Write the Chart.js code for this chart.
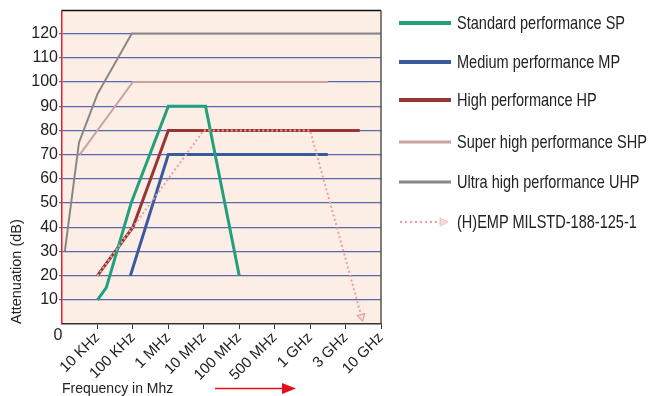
<!DOCTYPE html>
<html>
<head>
<meta charset="utf-8">
<script src="https://cdn.jsdelivr.net/npm/chart.js@4"></script>
<style>
  html, body { margin: 0; padding: 0; background: #ffffff; }
  #wrap { position: relative; width: 664px; height: 396px; overflow: hidden; }
  canvas { position: absolute; left: 0; top: 0; }
  .lg { position: absolute; left: 399px; height: 24px; display: flex; align-items: center; white-space: nowrap; }
  .lg svg { flex: none; }
  .lg span { display: inline-block; margin-left: 6px; font-family: "Liberation Sans", Arial, sans-serif;
             font-size: 19px; color: #222; transform: scaleX(0.765); transform-origin: 0 50%; }
  #farrow { position: absolute; left: 212px; top: 380px; }
</style>
</head>
<body>
<div id="wrap">
  <canvas id="c" width="664" height="396"></canvas>
  <div id="legend"></div>
  <svg id="farrow" width="90" height="16" viewBox="0 0 90 16">
    <line x1="3" y1="8.5" x2="72" y2="8.5" stroke="#e3101e" stroke-width="1.5"/>
    <polygon points="70,3 84,8.5 70,14" fill="#e3101e"/>
  </svg>
</div>
<script>
// ---- data ----
const xLabels = ['10 KHz', '100 KHz', '1 MHz', '10 MHz', '100 MHz', '500 MHz', '1 GHz', '3 GHz', '10 GHz'];
const seriesNames = ['Standard performance SP', 'Medium performance MP', 'High performance HP',
                     'Super high performance SHP', 'Ultra high performance UHP', '(H)EMP MILSTD-188-125-1'];

const spX  = [1, 1.25, 1.95, 3, 4.05, 5];
const spY  = [10, 15, 50, 90, 90, 20];
const mpX  = [1.93, 3, 7.5];
const mpY  = [20, 70, 70];
const hpX  = [1, 2, 3, 8.4];
const hpY  = [20, 40, 80, 80];
const shpX = [0.5, 2, 7.5];
const shpY = [70, 100, 100];
const uhpX = [0.08, 0.48, 1, 1.97, 9];
const uhpY = [30, 75, 95, 120, 120];
const empX = [1, 2, 4, 7, 8.45];
const empY = [20, 40, 80, 80, 3];

const yTickValues = [10, 20, 30, 40, 50, 60, 70, 80, 90, 100, 110, 120];

// ---- styles ----
const colors = ['#22a07e', '#3a5a9e', '#993434', '#c8a4a0', '#878787', '#e3a3a3'];
const widths = [3, 3, 3, 2, 2, 2];
const REG = '"Liberation Sans", Arial, sans-serif';

function pts(xs, ys) { return xs.map((x, i) => ({ x: x, y: ys[i] })); }

const datasets = [
  { label: seriesNames[0], data: pts(spX, spY), borderColor: colors[0], borderWidth: widths[0], order: 1 },
  { label: seriesNames[1], data: pts(mpX, mpY), borderColor: colors[1], borderWidth: widths[1], order: 3 },
  { label: seriesNames[2], data: pts(hpX, hpY), borderColor: colors[2], borderWidth: widths[2], order: 2 },
  { label: seriesNames[3], data: pts(shpX, shpY), borderColor: colors[3], borderWidth: widths[3], order: 4 },
  { label: seriesNames[4], data: pts(uhpX, uhpY), borderColor: colors[4], borderWidth: widths[4], order: 5 },
  { label: seriesNames[5], data: pts(empX, empY), borderColor: colors[5], borderWidth: widths[5], order: 0,
    borderDash: [2, 2.5],
    pointStyle: 'triangle',
    pointRadius: empX.map((_, i) => i === empX.length - 1 ? 4.5 : 0),
    pointRotation: 165,
    pointBackgroundColor: '#f6dcdc',
    pointBorderColor: colors[5],
    pointBorderWidth: 1.2 }
];
datasets.forEach(d => {
  d.fill = false; d.tension = 0;
  if (d.pointRadius === undefined) d.pointRadius = 0;
  d.borderJoinStyle = 'miter';
});

const framePlugin = {
  id: 'frame',
  beforeDraw(chart) {
    const { ctx, chartArea: a } = chart;
    ctx.save();
    ctx.fillStyle = '#fdeee5';
    ctx.fillRect(a.left, a.top, a.right - a.left, a.bottom - a.top);
    ctx.restore();
  },
  afterDraw(chart) {
    const { ctx, chartArea: a } = chart;
    ctx.save();
    ctx.strokeStyle = '#111';
    ctx.lineWidth = 1.5;
    ctx.beginPath();
    ctx.moveTo(a.left, a.top);
    ctx.lineTo(a.right, a.top);
    ctx.stroke();
    ctx.strokeStyle = '#555';
    ctx.beginPath();
    ctx.moveTo(a.right, a.top);
    ctx.lineTo(a.right, a.bottom);
    ctx.stroke();
    // origin label
    ctx.fillStyle = '#222';
    ctx.font = '16px ' + REG;
    ctx.textAlign = 'center';
    ctx.textBaseline = 'middle';
    ctx.fillText('0', chart.scales.x.getPixelForValue(0) - 4, a.bottom + 12);
    ctx.restore();
  }
};

new Chart(document.getElementById('c'), {
  type: 'line',
  data: { datasets: datasets },
  options: {
    responsive: false,
    animation: false,
    devicePixelRatio: 1,
    layout: { padding: { top: 9, right: 283, left: 0, bottom: 0 } },
    plugins: { legend: { display: false }, tooltip: { enabled: false } },
    scales: {
      x: {
        type: 'linear', min: 0, max: 9,
        afterFit: s => { s.height = 72; },
        afterBuildTicks: s => { s.ticks = [0, 1, 2, 3, 4, 5, 6, 7, 8, 9].map(v => ({ value: v })); },
        ticks: {
          autoSkip: false, maxRotation: 45, minRotation: 45, padding: 0,
          color: '#222', font: { family: REG, size: 15 },
          callback: v => (v >= 1 ? xLabels[v - 1] : '')
        },
        grid: { drawOnChartArea: false, drawTicks: true, tickLength: 5,
                color: c => (c.tick && c.tick.value === 0 ? 'rgba(0,0,0,0)' : '#333') },
        border: { color: '#333', width: 1.5 },
        title: { display: true, text: 'Frequency in Mhz', align: 'start', color: '#222',
                 font: { family: REG, size: 14, lineHeight: 1.0 }, padding: { top: 0, bottom: 0 } }
      },
      y: {
        type: 'linear', min: 0, max: 129.5,
        afterFit: s => { s.width = 62; },
        afterBuildTicks: s => { s.ticks = [0].concat(yTickValues).map(v => ({ value: v })); },
        ticks: { color: '#222', font: { family: REG, size: 16 }, padding: 1,
                 callback: v => (v === 0 ? '' : v) },
        grid: { color: c => (c.tick && c.tick.value === 0 ? 'rgba(0,0,0,0)' : '#5867ae'),
                lineWidth: 1.3, tickLength: 3 },
        border: { color: '#e3202a', width: 1.5 },
        title: { display: true, text: 'Attenuation (dB)', align: 'start', color: '#222',
                 font: { family: REG, size: 14.5 }, padding: { top: 8, bottom: 0 } }
      }
    }
  },
  plugins: [framePlugin]
});

// ---- legend (HTML) ----
const legendRows = [23, 62, 100, 142, 182, 222];
const lg = document.getElementById('legend');
seriesNames.forEach((name, i) => {
  const row = document.createElement('div');
  row.className = 'lg';
  row.style.top = (legendRows[i] - 12) + 'px';
  let svg;
  if (i === 5) {
    svg = '<svg width="52" height="12"><line x1="1" y1="6" x2="40" y2="6" stroke="' + colors[i] +
          '" stroke-width="2" stroke-dasharray="2,3"/><polygon points="41,2 49,6 41,10" fill="#f6dcdc" stroke="' +
          colors[i] + '" stroke-width="1" stroke-dasharray="1.5,1"/></svg>';
  } else {
    svg = '<svg width="52" height="12"><line x1="0" y1="6" x2="52" y2="6" stroke="' + colors[i] +
          '" stroke-width="' + (widths[i] + 1) + '"/></svg>';
  }
  row.innerHTML = svg + '<span>' + name + '</span>';
  lg.appendChild(row);
});
</script>
</body>
</html>
